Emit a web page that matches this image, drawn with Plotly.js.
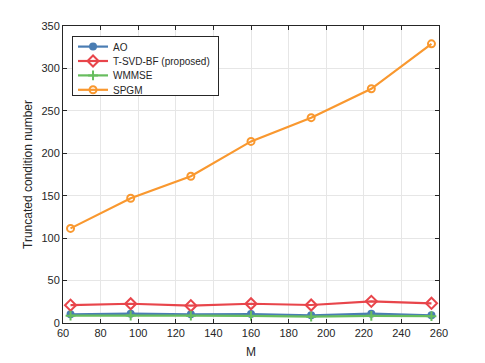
<!DOCTYPE html>
<html>
<head>
<meta charset="utf-8">
<script src="https://cdn.plot.ly/plotly-3.0.1.min.js"></script>
<style>
  html, body { margin: 0; padding: 0; background: #fff; }
  #plot { width: 485px; height: 363px; }
</style>
</head>
<body>
<div id="plot"></div>
<script>
// Antenna counts on the x axis
const M = [64, 96, 128, 160, 192, 224, 256];

// Truncated condition number per method
const ao = [10.2, 11.0, 10.2, 10.6, 9.0, 11.0, 9.0];
const tsvd = [21.0, 22.7, 20.4, 22.7, 21.2, 25.5, 23.2];
const wmmse = [8.6, 8.8, 8.6, 8.3, 7.5, 8.5, 8.0];
const spgm = [111.5, 147, 173, 214, 242, 276, 329];

const names = ['AO', 'T-SVD-BF (proposed)', 'WMMSE', 'SPGM'];
const colors = ['#4a7db3', '#e8454b', '#67bd5e', '#f9982f'];

const mk = (y, i, symbol, size) => ({
    x: M,
    y: y,
    name: names[i],
    type: 'scatter',
    mode: 'lines+markers',
    line: { color: colors[i], width: 2.2 },
    marker: { symbol: symbol, size: size, color: colors[i],
              line: { color: colors[i], width: 2 } }
});

const data = [
    mk(ao, 0, 'circle', 6),
    mk(tsvd, 1, 'diamond-open', 8.5),
    mk(wmmse, 2, 'cross-thin', 7),
    mk(spgm, 3, 'circle-open', 7)
];

const axisCommon = {
    showline: true,
    linecolor: '#262626',
    linewidth: 1,
    mirror: 'ticks',
    ticks: 'inside',
    ticklen: 4,
    tickcolor: '#262626',
    showgrid: true,
    gridcolor: '#e6e6e6',
    zeroline: false,
    tickfont: { size: 11, color: '#262626' }
};

const layout = {
    width: 485,
    height: 363,
    margin: { l: 63, r: 46, t: 26, b: 40 },
    paper_bgcolor: '#ffffff',
    plot_bgcolor: '#ffffff',
    font: { family: 'Liberation Sans, Arial, sans-serif', color: '#262626', size: 11 },
    xaxis: Object.assign({}, axisCommon, {
        range: [60, 260],
        tickvals: [60, 80, 100, 120, 140, 160, 180, 200, 220, 240, 260],
        title: { text: 'M', font: { size: 12 }, standoff: 9 }
    }),
    yaxis: Object.assign({}, axisCommon, {
        range: [0, 350],
        tickvals: [0, 50, 100, 150, 200, 250, 300, 350],
        title: { text: 'Truncated condition number', font: { size: 12 }, standoff: 6 }
    }),
    legend: {
        x: 0.024, y: 0.966, xanchor: 'left', yanchor: 'top',
        bgcolor: '#ffffff',
        bordercolor: '#262626',
        borderwidth: 1,
        font: { size: 10 },
        tracegroupgap: 0,
        itemwidth: 30
    },
    showlegend: true
};

Plotly.newPlot('plot', data, layout, { displayModeBar: false, staticPlot: true }).then(gd => {
    // tighten legend rows to match the compact MATLAB-style legend
    const traces = gd.querySelectorAll('.legend .traces');
    const step = 14.4;
    let y0 = null;
    traces.forEach((t, i) => {
        const m = /translate\(([-\d.]+),\s*([-\d.]+)\)/.exec(t.getAttribute('transform'));
        if (!m) return;
        if (y0 === null) y0 = parseFloat(m[2]) - 5;
        t.setAttribute('transform', `translate(${m[1]},${y0 + i * step})`);
    });
    const bg = gd.querySelector('.legend .bg');
    if (bg) {
        bg.setAttribute('height', 59);
        bg.setAttribute('width', 146);
    }
});
</script>
</body>
</html>
